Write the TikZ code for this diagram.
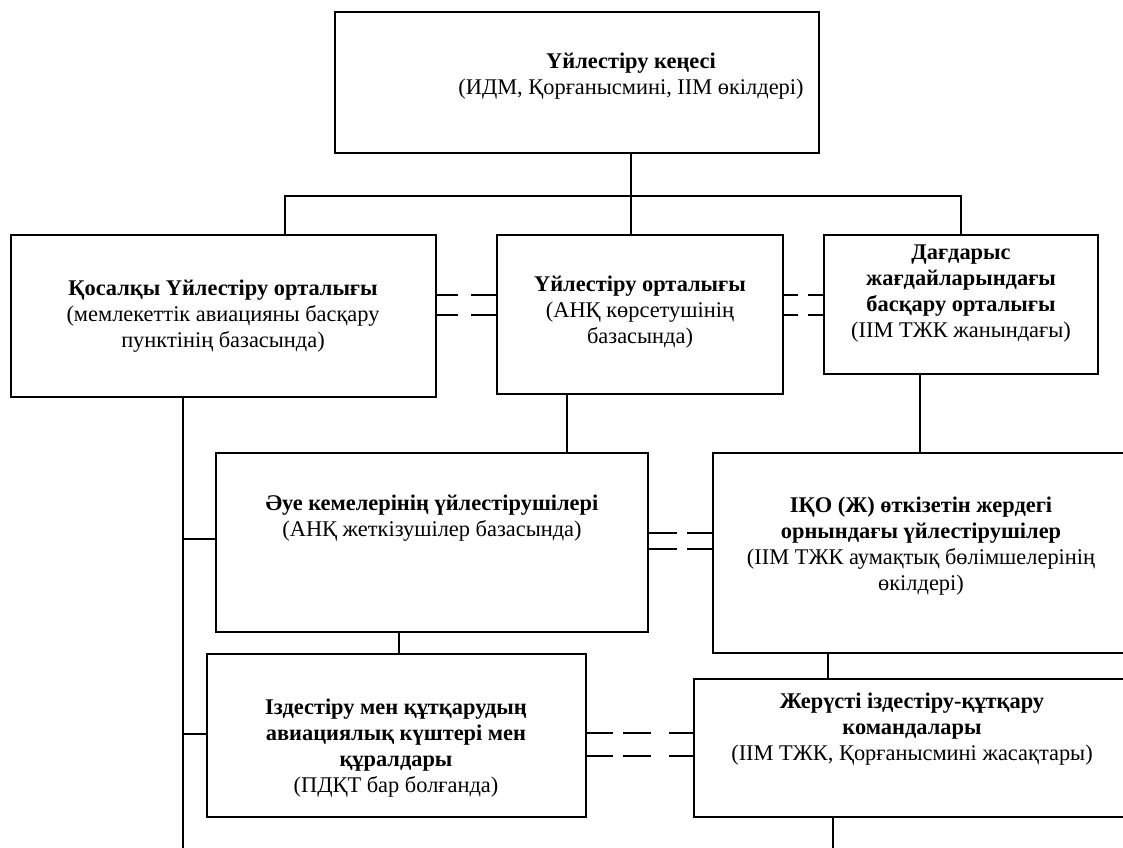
\documentclass[tikz,border=0pt]{standalone}
\usepackage{fontspec}
\setmainfont{Liberation Serif}
\usetikzlibrary{calc}
\tikzset{
  box/.style={draw=black, line width=0.9pt, inner sep=0pt, outer sep=0pt},
  txt/.style={align=center, font=\fontsize{16.8}{19.5}\selectfont, inner sep=0pt},
  conn/.style={draw=black, line width=0.9pt},
}
\newcommand{\mkbox}[5]{\node[box, minimum width={(#4-#2)*0.75pt}, minimum height={(#5-#3)*0.75pt}] (#1) at ({(#2+#4)/2},{(#3+#5)/2}) {};}
\begin{document}
\begin{tikzpicture}[x=0.75pt,y=-0.75pt]
\useasboundingbox (0,0) rectangle (1123,848);
\fill[white] (0,0) rectangle (1123,848);
% boxes
\mkbox{top}{335}{12}{819}{153}
\mkbox{lft}{11}{235}{436}{397}
\mkbox{mid}{497}{235}{783}{394}
\mkbox{rgt}{824}{235}{1098}{374}
\mkbox{aue}{216}{453}{648}{632}
\mkbox{iko}{713}{453}{1129}{653}
\mkbox{izd}{207}{654}{586}{817}
\mkbox{zhe}{694}{679}{1132}{817}
% texts
\node[txt] (topT) at (631,76) {\textbf{Үйлестіру кеңесі}\\(ИДМ, Қорғанысмині, ІІМ өкілдері)};
\node[txt] (lftT) at (223,316) {\textbf{Қосалқы Үйлестіру орталығы}\\(мемлекеттік авиацияны басқару\\пунктінің базасында)};
\node[txt] (midT) at (640,312) {\textbf{Үйлестіру орталығы}\\(АНҚ көрсетушінің\\базасында)};
\node[txt] (rgtT) at (961,294) {\textbf{Дағдарыс}\\\textbf{жағдайларындағы}\\\textbf{басқару орталығы}\\(ІІМ ТЖК жанындағы)};
\node[txt] (aueT) at (432,518) {\textbf{Әуе кемелерінің үйлестірушілері}\\(АНҚ жеткізушілер базасында)};
\node[txt] (ikoT) at (921,546) {\textbf{ІҚО (Ж) өткізетін жердегі}\\\textbf{орнындағы үйлестірушілер}\\(ІІМ ТЖК аумақтық бөлімшелерінің\\өкілдері)};
\node[txt] (izdT) at (396,748) {\textbf{Іздестіру мен құтқарудың}\\\textbf{авиациялық күштері мен}\\\textbf{құралдары}\\(ПДҚТ бар болғанда)};
\node[txt] (zheT) at (912,729) {\textbf{Жерүсті іздестіру-құтқару}\\\textbf{командалары}\\(ІІМ ТЖК, Қорғанысмині жасақтары)};
% tree connectors
\draw[conn] (631,0 |- top.south) -- (631,0 |- mid.north);
\draw[conn] (285,0 |- lft.north) |- (961,196) -- (961,0 |- rgt.north);
\draw[conn] (567,0 |- mid.south) -- (567,0 |- aue.north);
\draw[conn] (920,0 |- rgt.south) -- (920,0 |- iko.north);
\draw[conn] (399,0 |- aue.south) -- (399,0 |- izd.north);
\draw[conn] (828,0 |- iko.south) -- (828,0 |- zhe.north);
\coordinate (zend) at (833,848);
\draw[conn] (833,0 |- zhe.south) -- (zend);
\coordinate (lend) at (183,848);
\draw[conn] (183,0 |- lft.south) -- (lend);
\draw[conn] (183,539) -- (183,539 -| aue.west);
\draw[conn] (183,734) -- (183,734 -| izd.west);
% dashed double links
\foreach \yy in {295,315}{
  \draw[conn, dash pattern=on 16.5pt off 9.75pt on 30pt off 5pt] (lft.east |- 0,\yy) -- (mid.west |- 0,\yy);
  \draw[conn, dash pattern=on 11.25pt off 7.5pt on 20pt off 5pt] (mid.east |- 0,\yy) -- (rgt.west |- 0,\yy);
}
\foreach \yy in {533,549}{
  \draw[conn, dash pattern=on 21.75pt off 7.5pt on 30pt off 5pt] (aue.east |- 0,\yy) -- (iko.west |- 0,\yy);
}
\foreach \yy in {733,756}{
  \draw[conn, dash pattern=on 20.25pt off 7.5pt on 21pt off 13.5pt on 30pt off 5pt] (izd.east |- 0,\yy) -- (zhe.west |- 0,\yy);
}
\end{tikzpicture}
\end{document}
